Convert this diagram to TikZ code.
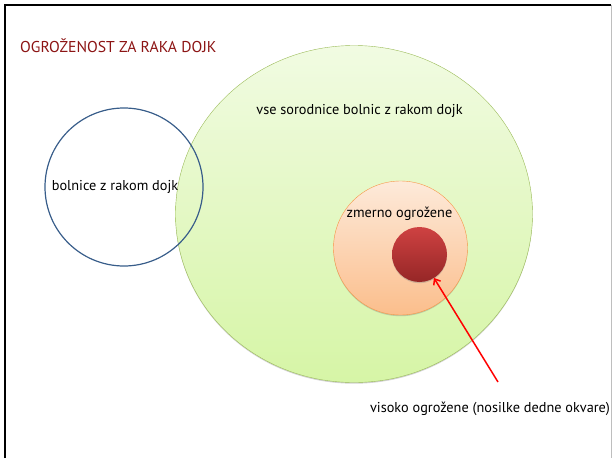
\documentclass[tikz,border=0pt]{standalone}
\usepackage{fontspec}
\setmainfont{PT Sans}
\usepackage{tikz}
\usetikzlibrary{arrows.meta, positioning, shapes.geometric, shadows}
\definecolor{setgreen}{RGB}{155,187,89}
\definecolor{greentop}{RGB}{241,251,226}
\definecolor{greenbot}{RGB}{214,245,166}
\definecolor{setorange}{RGB}{247,150,70}
\definecolor{orangetop}{RGB}{253,234,218}
\definecolor{orangebot}{RGB}{251,190,140}
\definecolor{spheretop}{RGB}{206,66,66}
\definecolor{spherebot}{RGB}{150,38,38}
\definecolor{setblue}{RGB}{56,93,138}
\definecolor{titlered}{RGB}{140,20,20}
\definecolor{framegray}{RGB}{190,190,190}

\begin{document}
\begin{tikzpicture}[x=1pt, y=-1pt, >=Latex, font=\fontsize{14.3}{17}\selectfont,
  soft/.style={drop shadow={shadow xshift=0pt, shadow yshift=-1.2pt, opacity=0.35}},
  allset/.style={draw=setgreen, ellipse, inner sep=0pt, top color=greentop,
                 bottom color=greenbot, soft},
  midset/.style={draw=setorange, circle, inner sep=0pt, top color=orangetop,
                 bottom color=orangebot, soft},
  highset/.style={circle, inner sep=0pt, outer sep=0pt, top color=spheretop,
                  bottom color=spherebot, soft},
  patset/.style={draw=setblue, line width=1.2pt, circle, inner sep=0pt},
  lbl/.style={inner sep=0pt, text=black}]

  \useasboundingbox (0,0) rectangle (613,458);

  % frame
  \draw[line width=2.5pt, black] (5,458) -- (5,5) -- (611,5);
  \draw[framegray] (611,5) -- (611,458);

  \node[titlered, anchor=west, inner sep=0pt, font=\fontsize{15.7}{18}\selectfont]
       (title) at (20,46) {OGROŽENOST ZA RAKA DOJK};

  \node[allset, minimum width=357pt, minimum height=337pt] (all) at (354,214) {};
  \node[midset, minimum size=134pt] (mid) at (400.5,248) {};
  \node[highset, minimum size=55pt] (high) at (419.5,254.5) {};
  \node[patset, minimum size=158pt] (pat) at (124,187) {};

  \node[lbl] (allL)  at (359.5,111) {vse sorodnice bolnic z rakom dojk};
  \node[lbl] (patL)  at (115,187)   {bolnice z rakom dojk};
  \node[lbl] (midL)  at (399.5,214) {zmerno ogrožene};
  \node[lbl] (highL) at (490,409)   {visoko ogrožene (nosilke dedne okvare)};

  \coordinate (tail) at (498,382);
  \draw[->, red, line width=1.5pt, >={Straight Barb[length=5pt, width=8pt]}]
       (tail) -- (high);
\end{tikzpicture}
\end{document}
